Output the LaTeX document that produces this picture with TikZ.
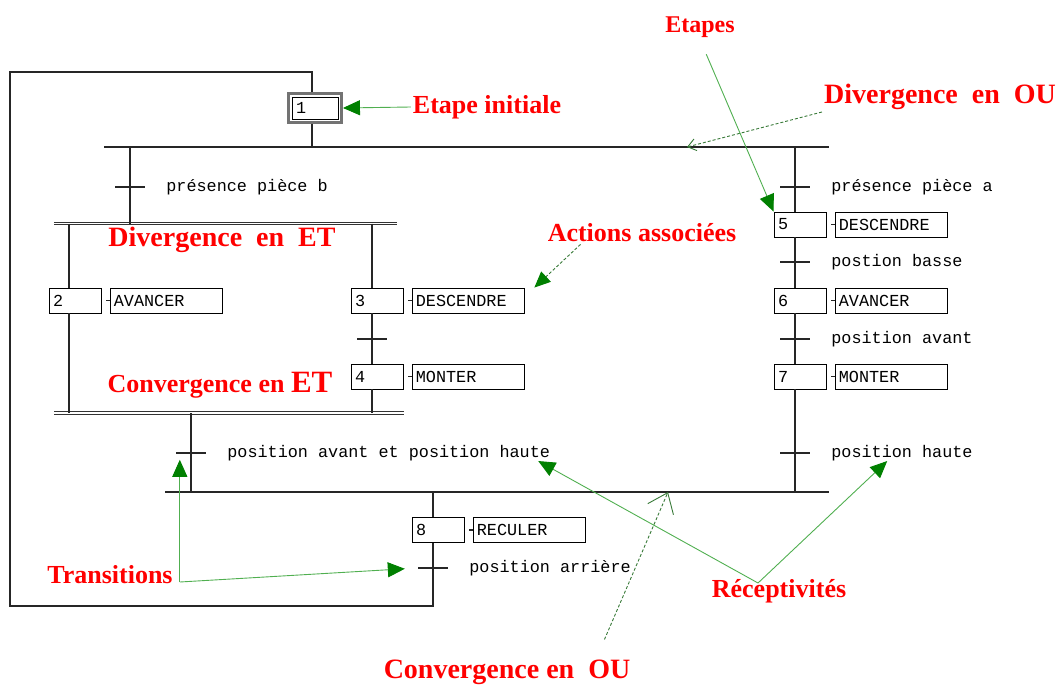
\documentclass[tikz,border=0pt]{standalone}
\usepackage{fontspec}
\newfontfamily\grafcetfont{Liberation Mono}
\newfontfamily\rougefont{Liberation Serif}
\usetikzlibrary{positioning,arrows.meta,fit}
\definecolor{vertfonce}{RGB}{0,128,0}
\definecolor{vertclair}{RGB}{80,175,80}
\tikzset{
  ligne/.style={line width=1.1pt, black!85},
  et/.style={double, double distance=1.4pt, line width=0.9pt, black!80},
  etape/.style={draw, line width=0.9pt, minimum height=25pt, text width=44pt, inner xsep=4pt, inner ysep=0pt, align=left, font=\grafcetfont\fontsize{16.8}{17}\selectfont},
  etapeinit/.style={etape, text width=38pt, minimum height=22pt},
  action/.style={etape, text width=106pt, inner xsep=3pt},
  trans/.style={fill=black!85, minimum width=30pt, minimum height=1.1pt, inner sep=0pt},
  recept/.style={inner sep=0pt, xshift=21pt, font=\grafcetfont\fontsize{16.8}{17}\selectfont},
  rouge/.style={text=red, inner sep=2pt, font=\rougefont\bfseries\fontsize{26}{26}\selectfont},
  grand/.style={font=\rougefont\bfseries\fontsize{28}{28}\selectfont},
  fleche/.style={vertclair, line width=0.9pt, -{Triangle[length=17pt,width=15pt,color=vertfonce]}},
  pointille/.style={vertclair!70!black, line width=0.9pt, dash pattern=on 3pt off 2pt}
}
\begin{document}
\begin{tikzpicture}[x=1pt,y=-1pt]
  \useasboundingbox (0,0) rectangle (1064,687);
  % barres de divergence / convergence
  \coordinate (ouDivG) at (104,147);
  \coordinate (ouDivD) at (829,147);
  \coordinate (d1) at (312,147);
  \coordinate (dG) at (130,147);
  \coordinate (dD) at (795,147);
  \coordinate (etDivG) at (54,223.5);
  \coordinate (etDivD) at (397,223.5);
  \coordinate (et2) at (69,223.5);
  \coordinate (et3) at (372,223.5);
  \coordinate (etConvG) at (54,413);
  \coordinate (etConvD) at (404,413);
  \coordinate (ec) at (191,413);
  \coordinate (ouConvG) at (165,492);
  \coordinate (ouConvD) at (829,492);
  \coordinate (c8) at (433,492);
  \coordinate (retourBas) at (10,606);
  \coordinate (retourHaut) at (10,72);

  % etapes
  \node[etapeinit] (e1) at (315,108) {1};
  \node[draw=black!55, line width=3pt, fit=(e1), inner sep=3pt] (e1cadre) {};
  \node[etape] (e2) at (75,300.5) {2};
  \node[etape] (e3) at (377,300.5) {3};
  \node[etape] (e4) at (377,376.5) {4};
  \node[etape] (e5) at (800,224.5) {5};
  \node[etape] (e6) at (800,300.5) {6};
  \node[etape] (e7) at (800,376.5) {7};
  \node[etape] (e8) at (438,530) {8};
  \foreach \e/\a in {2/AVANCER,3/DESCENDRE,4/MONTER,5/DESCENDRE,6/AVANCER,7/MONTER,8/RECULER}{
    \node[action, right=9pt of e\e] (a\e) {\a};
    \draw[ligne] (a\e.west) -- ++(-4pt,0);
  }

  % transitions
  \node[trans, label={[recept,name=r1]right:présence pièce b}] (t1) at (130,187) {};
  \node[trans] (t2) at (372,339) {};
  \node[trans, label={[recept,name=r3]right:position avant et position haute}] (t3) at (191,453) {};
  \node[trans, label={[recept,name=r4]right:présence pièce a}] (t4) at (795,187) {};
  \node[trans, label={[recept,name=r5]right:postion basse}] (t5) at (795,262) {};
  \node[trans, label={[recept,name=r6]right:position avant}] (t6) at (795,339) {};
  \node[trans, label={[recept,name=r7]right:position haute}] (t7) at (795,453) {};
  \node[trans, label={[recept,name=r8]right:position arrière}] (t8) at (433,568) {};

  \draw[ligne] (ouDivG) -- (ouDivD);
  \draw[ligne] (ouConvG) -- (ouConvD);
  \draw[et] (etDivG) -- (etDivD);
  \draw[et] (etConvG) -- (etConvD);
  \draw[ligne] (d1 |- e1cadre.south) -- (d1);
  \draw[ligne] (dG) -- (dG |- etDivG);
  \draw[ligne] (et2) -- (et2 |- e2.north);
  \draw[ligne] (et2 |- e2.south) -- (et2 |- etConvG);
  \draw[ligne] (et3) -- (et3 |- e3.north);
  \draw[ligne] (et3 |- e3.south) -- (et3 |- e4.north);
  \draw[ligne] (et3 |- e4.south) -- (et3 |- etConvG);
  \draw[ligne] (ec) -- (ec |- ouConvG);
  \draw[ligne] (dD) -- (dD |- e5.north);
  \foreach \h/\b in {5/6,6/7}
    \draw[ligne] (dD |- e\h.south) -- (dD |- e\b.north);
  \draw[ligne] (dD |- e7.south) -- (dD |- ouConvD);
  \draw[ligne] (c8) -- (c8 |- e8.north);
  \draw[ligne] (c8 |- e8.south) -- (c8 |- retourBas) -- (retourBas) -- (retourHaut) -| (d1 |- e1cadre.north);

  % legendes
  \node[rouge, font=\rougefont\bfseries\fontsize{24}{24}\selectfont] (lEtapes) at (700,27) {Etapes};
  \node[rouge] (lInit) at (487,107) {Etape initiale};
  \node[rouge, grand] (lDivOU) at (940,97) {Divergence\ \ en\ \ OU};
  \node[rouge] (lActions) at (642,233) {Actions associées};
  \node[rouge, grand] (lDivET) at (222,240) {Divergence\ \ en\ \ ET};
  \node[rouge] (lConvET) at (220,385) {Convergence en\ {\fontsize{31}{31}\selectfont ET}};
  \node[rouge] (lTrans) at (110,575) {Transitions};
  \node[rouge] (lRecept) at (779,591) {Réceptivités};
  \node[rouge, grand] (lConvOU) at (507,672) {Convergence en\ \ OU};

  \coordinate (pDivOU) at (687,147);
  \coordinate (pConvOU) at (668,492);
  \coordinate (cTrans) at ([xshift=5pt,yshift=-7pt]lTrans.east);
  \coordinate (cRecept) at ([xshift=-21pt,yshift=-6pt]lRecept.north);
  \draw[fleche] (lInit.west) -- (e1cadre.east);
  \draw[fleche, shorten <=16pt] (lEtapes.south) -- (e5.north west);
  \draw[pointille, -{Straight Barb[length=8pt,width=12pt]}] (lDivOU.south west) -- (pDivOU);
  \draw[pointille, -{Triangle[length=16pt,width=14pt,color=vertfonce]}] ([xshift=35pt]lActions.south west) -- ([xshift=9pt]a3.north east);
  \draw[fleche, shorten >=6pt] (cTrans) -- (cTrans |- t3.south);
  \draw[fleche, shorten >=13pt] (cTrans) -- (t8.west);
  \draw[fleche] (cRecept) -- ([xshift=-12pt]r3.south east);
  \draw[fleche] (cRecept) -- ([xshift=56pt]r7.south west);
  \draw[pointille, -{Straight Barb[length=18pt,width=28pt]}] ([xshift=-28pt,yshift=18pt]lConvOU.north east) -- (pConvOU);
\end{tikzpicture}
\end{document}
